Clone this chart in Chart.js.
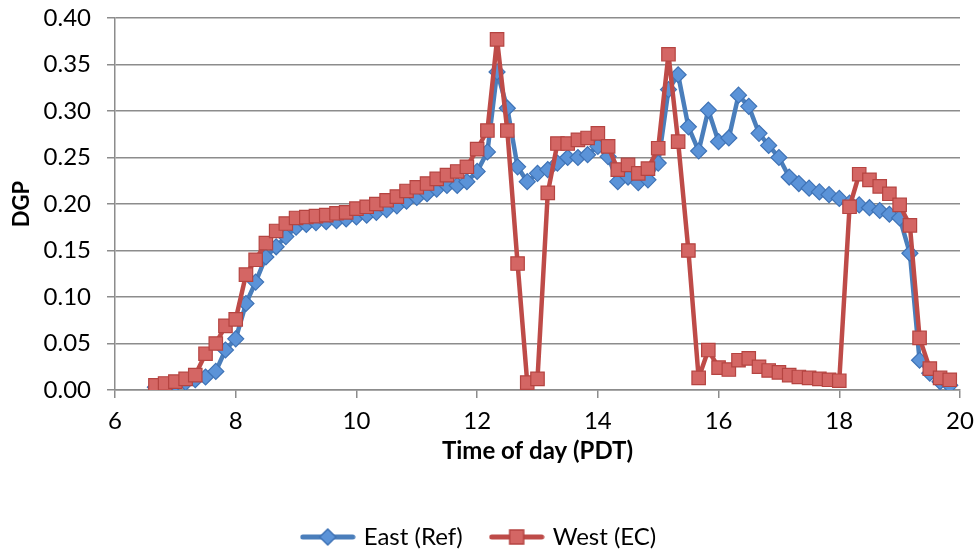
<!DOCTYPE html>
<html>
<head>
<meta charset="utf-8">
<script src="https://cdn.jsdelivr.net/npm/chart.js@4.4.1/dist/chart.umd.min.js"></script>
<style>
  html, body { margin: 0; padding: 0; background: #fff; }
  #wrap { width: 978px; height: 552px; }
</style>
</head>
<body>
<div id="wrap"><canvas id="dgpChart" width="978" height="552"></canvas></div>
<script>
// time of day, hours (PDT), one reading every 10 minutes
var times = [6.67, 6.83, 7.00, 7.17, 7.33, 7.50, 7.67, 7.83, 8.00, 8.17,
  8.33, 8.50, 8.67, 8.83, 9.00, 9.17, 9.33, 9.50, 9.67, 9.83,
  10.00, 10.17, 10.33, 10.50, 10.67, 10.83, 11.00, 11.17, 11.33, 11.50,
  11.67, 11.83, 12.00, 12.17, 12.33, 12.50, 12.67, 12.83, 13.00, 13.17,
  13.33, 13.50, 13.67, 13.83, 14.00, 14.17, 14.33, 14.50, 14.67, 14.83,
  15.00, 15.17, 15.33, 15.50, 15.67, 15.83, 16.00, 16.17, 16.33, 16.50,
  16.67, 16.83, 17.00, 17.17, 17.33, 17.50, 17.67, 17.83, 18.00, 18.17,
  18.33, 18.50, 18.67, 18.83, 19.00, 19.17, 19.33, 19.50, 19.67, 19.83];

var east = [0.003, 0.004, 0.006, 0.008, 0.011, 0.014, 0.020, 0.043, 0.055, 0.093,
  0.116, 0.143, 0.154, 0.165, 0.175, 0.178, 0.180, 0.181, 0.182, 0.184,
  0.186, 0.188, 0.191, 0.194, 0.198, 0.203, 0.207, 0.211, 0.216, 0.220,
  0.220, 0.224, 0.235, 0.256, 0.342, 0.303, 0.240, 0.224, 0.233, 0.237,
  0.244, 0.250, 0.250, 0.253, 0.262, 0.251, 0.224, 0.229, 0.223, 0.226,
  0.244, 0.323, 0.339, 0.283, 0.257, 0.301, 0.267, 0.271, 0.317, 0.305,
  0.276, 0.263, 0.250, 0.229, 0.222, 0.217, 0.213, 0.210, 0.206, 0.201,
  0.199, 0.196, 0.193, 0.189, 0.185, 0.147, 0.032, 0.018, 0.009, 0.005];

var west = [0.005, 0.007, 0.009, 0.012, 0.016, 0.039, 0.050, 0.069, 0.076, 0.124,
  0.140, 0.158, 0.171, 0.179, 0.185, 0.186, 0.187, 0.188, 0.190, 0.191,
  0.195, 0.197, 0.200, 0.204, 0.208, 0.214, 0.218, 0.222, 0.227, 0.231,
  0.235, 0.240, 0.259, 0.279, 0.377, 0.279, 0.136, 0.008, 0.012, 0.212,
  0.265, 0.265, 0.269, 0.271, 0.276, 0.262, 0.237, 0.242, 0.233, 0.238,
  0.260, 0.361, 0.267, 0.150, 0.013, 0.043, 0.024, 0.022, 0.032, 0.034,
  0.025, 0.021, 0.019, 0.016, 0.014, 0.013, 0.012, 0.011, 0.010, 0.197,
  0.232, 0.226, 0.219, 0.211, 0.199, 0.177, 0.056, 0.023, 0.013, 0.011];

var seriesNames = ["East (Ref)", "West (EC)"];
var xTicks = [6, 8, 10, 12, 14, 16, 18, 20];
var yTicks = [0.00, 0.05, 0.10, 0.15, 0.20, 0.25, 0.30, 0.35, 0.40];

var blueLine = '#4A7EBB', blueFill = '#5B93D8', blueEdge = '#3F73B6';
var redLine = '#BE4B48', redFill = '#D46664', redEdge = '#B54441';
var gridGray = '#8C8C8C';
var fontFam = 'Lato, "Open Sans", sans-serif';

function pairs(xs, ys) {
  return xs.map(function (x, i) { return { x: x, y: ys[i] }; });
}

// small line + marker picture for the legend, like the spreadsheet legend
function legendIcon(lineColor, fill, edge, shape) {
  var c = document.createElement('canvas');
  c.width = 56; c.height = 20;
  var g = c.getContext('2d');
  g.strokeStyle = lineColor; g.lineWidth = 5; g.lineCap = 'round';
  g.beginPath(); g.moveTo(3, 10); g.lineTo(53, 10); g.stroke();
  g.fillStyle = fill; g.strokeStyle = edge; g.lineWidth = 1.5;
  g.beginPath();
  if (shape === 'diamond') {
    g.moveTo(28, 2); g.lineTo(36, 10); g.lineTo(28, 18); g.lineTo(20, 10); g.closePath();
  } else {
    g.rect(21, 3, 14, 14);
  }
  g.fill(); g.stroke();
  return c;
}

function buildChart() {
  var ctx = document.getElementById('dgpChart').getContext('2d');
  var icons = [legendIcon(blueLine, blueFill, blueEdge, 'diamond'),
               legendIcon(redLine, redFill, redEdge, 'square')];

  var chart = new Chart(ctx, {
    type: 'line',
    data: {
      datasets: [{
        label: seriesNames[0],
        data: pairs(times, east),
        borderColor: blueLine,
        borderWidth: 4.5,
        borderJoinStyle: 'round',
        pointStyle: 'rectRot',
        pointRadius: 8,
        pointBackgroundColor: blueFill,
        pointBorderColor: blueEdge,
        pointBorderWidth: 1.2,
        order: 1
      }, {
        label: seriesNames[1],
        data: pairs(times, west),
        borderColor: redLine,
        borderWidth: 4.5,
        borderJoinStyle: 'round',
        pointStyle: 'rect',
        pointRadius: 9.5,
        pointBackgroundColor: redFill,
        pointBorderColor: redEdge,
        pointBorderWidth: 1.2,
        order: 0
      }]
    },
    options: {
      responsive: false,
      animation: false,
      layout: { padding: { left: 0, right: 18, top: 18, bottom: -7 } },
      plugins: {
        tooltip: { enabled: false },
        legend: {
          position: 'bottom',
          labels: {
            usePointStyle: true,
            pointStyleWidth: 48,
            padding: 30,
            color: '#000',
            font: { family: fontFam, size: 24 },
            generateLabels: function (ch) {
              return seriesNames.map(function (name, i) {
                return { text: name, pointStyle: icons[i], datasetIndex: i,
                         fillStyle: 'transparent', strokeStyle: 'transparent', lineWidth: 0 };
              });
            }
          }
        }
      },
      scales: {
        x: {
          type: 'linear',
          min: 6, max: 20,
          afterBuildTicks: function (s) { s.ticks = xTicks.map(function (v) { return { value: v }; }); },
          afterFit: function (s) { s.height = 105; s.paddingLeft = 0; s.paddingRight = 0; },
          grid: { drawOnChartArea: false, color: gridGray, lineWidth: 1.5, tickLength: 8 },
          border: { color: gridGray, width: 1.5 },
          ticks: { color: '#000', padding: 9, maxRotation: 0, font: { family: fontFam, size: 24 } },
          title: { display: true, text: 'Time of day (PDT)', color: '#000',
                   font: { family: fontFam, size: 24, weight: 'bold' }, padding: { top: 0, bottom: 29 } }
        },
        y: {
          min: 0, max: 0.4,
          afterBuildTicks: function (s) { s.ticks = yTicks.map(function (v) { return { value: v }; }); },
          afterFit: function (s) { s.width = 115; s.paddingTop = 0; s.paddingBottom = 0; },
          grid: { color: gridGray, lineWidth: 1.5, tickLength: 8 },
          border: { color: gridGray, width: 1.5 },
          ticks: { color: '#000', padding: 16, font: { family: fontFam, size: 24 },
                   callback: function (v) { return Number(v).toFixed(2); } },
          title: { display: true, text: 'DGP', color: '#000',
                   font: { family: fontFam, size: 22, weight: 'bold' }, padding: { top: 9, bottom: 0 } }
        }
      }
    }
  });
  return chart;
}

buildChart();
</script>
</body>
</html>
